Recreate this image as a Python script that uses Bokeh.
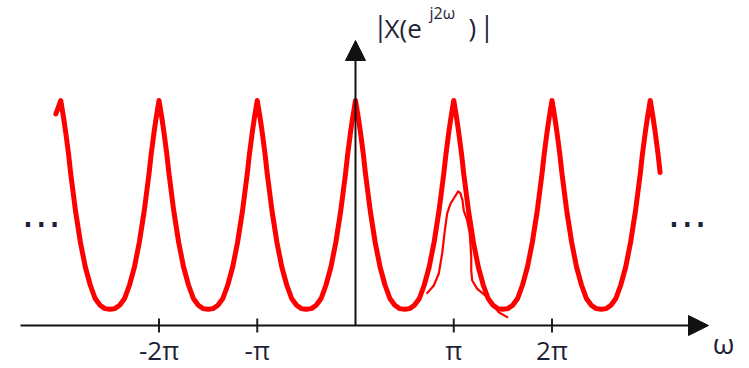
from bokeh.plotting import figure
from bokeh.models import Range1d, Arrow, NormalHead
from bokeh.core.properties import value
from bokeh.embed import file_html
from bokeh.resources import INLINE

# ---------------- data ----------------
# omega in units of pi, |X(e^{j2w})| normalised so that a peak = 1
omega_over_pi = [
    -3.05,
    -3.00, -2.97, -2.95, -2.92, -2.90, -2.85, -2.80, -2.75, -2.70, -2.65, -2.60, -2.55,
    -2.50, -2.45, -2.40, -2.35, -2.30, -2.25, -2.20, -2.15, -2.10, -2.08, -2.05, -2.03,
    -2.00, -1.97, -1.95, -1.92, -1.90, -1.85, -1.80, -1.75, -1.70, -1.65, -1.60, -1.55,
    -1.50, -1.45, -1.40, -1.35, -1.30, -1.25, -1.20, -1.15, -1.10, -1.08, -1.05, -1.03,
    -1.00, -0.97, -0.95, -0.92, -0.90, -0.85, -0.80, -0.75, -0.70, -0.65, -0.60, -0.55,
    -0.50, -0.45, -0.40, -0.35, -0.30, -0.25, -0.20, -0.15, -0.10, -0.08, -0.05, -0.03,
    0.00, 0.03, 0.05, 0.08, 0.10, 0.15, 0.20, 0.25, 0.30, 0.35, 0.40, 0.45,
    0.50, 0.55, 0.60, 0.65, 0.70, 0.75, 0.80, 0.85, 0.90, 0.92, 0.95, 0.97,
    1.00, 1.03, 1.05, 1.08, 1.10, 1.15, 1.20, 1.25, 1.30, 1.35, 1.40, 1.45,
    1.50, 1.55, 1.60, 1.65, 1.70, 1.75, 1.80, 1.85, 1.90, 1.92, 1.95, 1.97,
    2.00, 2.03, 2.05, 2.08, 2.10, 2.15, 2.20, 2.25, 2.30, 2.35, 2.40, 2.45,
    2.50, 2.55, 2.60, 2.65, 2.70, 2.75, 2.80, 2.85, 2.90, 2.92, 2.95, 2.97,
    3.00, 3.03, 3.05, 3.08, 3.10,
]
magnitude = [
    0.94,
    1.00, 0.92, 0.86, 0.76, 0.68, 0.51, 0.37, 0.26, 0.18, 0.12, 0.09, 0.075,
    0.072, 0.075, 0.09, 0.12, 0.18, 0.26, 0.37, 0.51, 0.68, 0.76, 0.86, 0.92,
    1.00, 0.92, 0.86, 0.76, 0.68, 0.51, 0.37, 0.26, 0.18, 0.12, 0.09, 0.075,
    0.072, 0.075, 0.09, 0.12, 0.18, 0.26, 0.37, 0.51, 0.68, 0.76, 0.86, 0.92,
    1.00, 0.92, 0.86, 0.76, 0.68, 0.51, 0.37, 0.26, 0.18, 0.12, 0.09, 0.075,
    0.072, 0.075, 0.09, 0.12, 0.18, 0.26, 0.37, 0.51, 0.68, 0.76, 0.86, 0.92,
    1.00, 0.92, 0.86, 0.76, 0.68, 0.51, 0.37, 0.26, 0.18, 0.12, 0.09, 0.075,
    0.072, 0.075, 0.09, 0.12, 0.18, 0.26, 0.37, 0.51, 0.68, 0.76, 0.86, 0.92,
    1.00, 0.92, 0.86, 0.76, 0.68, 0.51, 0.37, 0.26, 0.18, 0.12, 0.09, 0.075,
    0.072, 0.075, 0.09, 0.12, 0.18, 0.26, 0.37, 0.51, 0.68, 0.76, 0.86, 0.92,
    1.00, 0.92, 0.86, 0.76, 0.68, 0.51, 0.37, 0.26, 0.18, 0.12, 0.09, 0.075,
    0.072, 0.075, 0.09, 0.12, 0.18, 0.26, 0.37, 0.51, 0.68, 0.76, 0.86, 0.92,
    1.00, 0.92, 0.86, 0.76, 0.68,
]

# hand-drawn sketch around omega = pi
sketch_omega_over_pi = [0.730, 0.797, 0.848, 0.882, 0.909, 0.933, 0.967, 1.008, 1.045,
                        1.069, 1.089, 1.102, 1.137, 1.163, 1.170, 1.178, 1.178, 1.188,
                        1.239, 1.323, 1.391, 1.458, 1.544]
sketch_magnitude = [0.144, 0.178, 0.231, 0.320, 0.422, 0.498, 0.542, 0.570, 0.596,
                    0.587, 0.556, 0.511, 0.467, 0.409, 0.364, 0.304, 0.244, 0.200,
                    0.163, 0.133, 0.096, 0.059, 0.037]

tick_values = [-2, -1, 1, 2]
tick_labels = ["-2π", "-π", "π", "2π"]

# ---------------- layout / style ----------------
W, H = 749, 368
ORIGIN_X, ORIGIN_Y = 355.0, 325.0      # canvas pixels of the origin
SX, SY = 98.25, 225.0                  # pixels per unit


def xd(px):
    return (px - ORIGIN_X) / SX


def yd(py):
    return (ORIGIN_Y - py) / SY


INK = "#1f1f38"
RED = "#ff0000"
FONT = value("Open Sans")

p = figure(width=W, height=H, output_backend="svg", toolbar_location=None,
           x_range=Range1d(xd(0), xd(W)), y_range=Range1d(yd(H), yd(0)),
           x_axis_location=None, y_axis_location=None, min_border=0,
           outline_line_color=None, background_fill_color="white",
           border_fill_color="white")
p.grid.visible = False

# axes with arrows
p.add_layout(Arrow(end=NormalHead(size=20, fill_color="#111111", line_color="#111111", line_width=1),
                   x_start=xd(20), y_start=0, x_end=xd(708), y_end=0,
                   line_width=2, line_color="#111111"))
p.add_layout(Arrow(end=NormalHead(size=20, fill_color="#111111", line_color="#111111", line_width=1),
                   x_start=0, y_start=0, x_end=0, y_end=yd(40),
                   line_width=2, line_color="#111111"))

# ticks
t = 7 / SY
p.segment(x0=tick_values, y0=[-t] * len(tick_values), x1=tick_values, y1=[t] * len(tick_values),
          line_width=2, line_color="#222222")

# curve
p.line(omega_over_pi, magnitude, line_color=RED, line_width=5, line_join="round", line_cap="round")
p.line(sketch_omega_over_pi, sketch_magnitude, line_color=RED, line_width=2.2,
       line_join="round", line_cap="round")


def txt(xs, ys, texts, size, align="center", font=FONT):
    p.text(x=xs, y=ys, text=texts, text_font=font, text_font_size=size,
           text_align=align, text_baseline="middle", text_color=INK)


# tick labels
txt(tick_values, [yd(349)] * len(tick_values), tick_labels, "26px")

# omega axis label
txt([xd(723)], [yd(342)], ["ω"], "28px")

# title |X(e^{j2w})|
txt([xd(380), xd(486.5)], [yd(25), yd(25)], ["|", "|"], "27px")
txt([xd(384)], [yd(27)], ["X(e"], "26px", align="left")
txt([xd(429)], [yd(12)], ["j2ω"], "16px", align="left")
txt([xd(468)], [yd(26)], [")"], "26px", align="left")

# continuation dots
txt([xd(40.7), xd(686.7)], [yd(212), yd(212)], ["…", "…"], "40px", font=value("DejaVu Sans"))

open("out.html", "w").write(file_html(p, INLINE))
